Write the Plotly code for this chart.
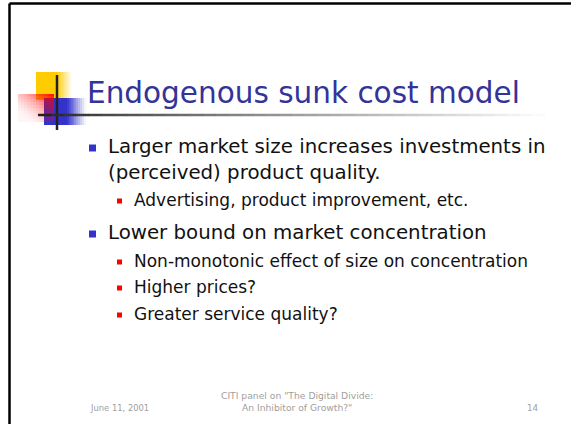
import plotly.graph_objects as go

# ---- content ----
title_text = "Endogenous sunk cost model"
line_texts = [
    "Larger market size increases investments in",
    "(perceived) product quality.",
    "Advertising, product improvement, etc.",
    "Lower bound on market concentration",
    "Non-monotonic effect of size on concentration",
    "Higher prices?",
    "Greater service quality?",
]
line_levels = [1, 0, 2, 1, 2, 2, 2]   # 1 = main bullet, 0 = continuation, 2 = sub bullet
line_y = [146, 172, 200, 232, 261, 287, 314]
footer_left = "June 11, 2001"
footer_center = ["CITI panel on \"The Digital Divide:", "An Inhibitor of Growth?\""]
footer_right = "14"

W, H = 571, 424
FONT = "DejaVu Sans"
BLUE = "#3333CC"
TITLE_BLUE = "#333399"
fig = go.Figure()
shapes = []

def rect(x0, y0, x1, y1, color, opacity=1.0):
    shapes.append(dict(type="rect", x0=x0, y0=y0, x1=x1, y1=y1, xref="x", yref="y",
                       fillcolor=color, opacity=opacity, line=dict(width=0), layer="below"))

def mix(c1, c2, t):
    return "rgb(%d,%d,%d)" % tuple(round(a + (b - a) * t) for a, b in zip(c1, c2))

# slide border (top and left)
shapes.append(dict(type="line", x0=9.5, y0=3.5, x1=W + 5, y1=3.5, line=dict(color="black", width=2.5)))
shapes.append(dict(type="line", x0=9.5, y0=3.5, x1=9.5, y1=H + 5, line=dict(color="black", width=2.5)))

# logo: yellow square with fade
rect(36, 72, 57, 100, "#FFCC00")
n = 10
for i in range(n):
    x0 = 57 + i * 15 / n
    rect(x0, 72, x0 + 15 / n + 0.3, 100, mix((255, 204, 0), (255, 255, 255), (i + 0.5) / n))
# blue square with fade
rect(44, 98, 67, 125, BLUE)
for i in range(n):
    x0 = 67 + i * 19 / n
    rect(x0, 98, x0 + 19 / n + 0.3, 125, mix((51, 51, 204), (255, 255, 255), (i + 0.5) / n))
# red square with diagonal transparency gradient
cs = 3
for ix in range(12):
    for iy in range(10):
        x0 = 18 + ix * cs
        y0 = 94 + iy * 2.8
        t = ((ix + 0.5) / 12 + 1 - (iy + 0.5) / 10) / 2
        rect(x0, y0, x0 + cs, y0 + 2.8, "#FF0000", opacity=max(0.04, min(0.9, t ** 2)))

# cross lines
shapes.append(dict(type="line", x0=57, y0=75, x1=57, y1=130, line=dict(color="#222222", width=2.5)))
m = 40
for i in range(m):
    x0 = 38 + i * (545 - 38) / m
    x1 = x0 + (545 - 38) / m + 0.5
    shapes.append(dict(type="line", x0=x0, y0=115, x1=x1, y1=115,
                       line=dict(color=mix((34, 34, 34), (255, 255, 255), (i / m) ** 0.85), width=2.5)))

annotations = []
annotations.append(dict(x=85, y=93, text=title_text, xanchor="left", yanchor="middle", showarrow=False,
                        font=dict(family=FONT, size=29.5, color=TITLE_BLUE)))

bx, by, rx, ry = [], [], [], []
for t, lv, y in zip(line_texts, line_levels, line_y):
    if lv in (0, 1):
        annotations.append(dict(x=106, y=y, text=t, xanchor="left", yanchor="middle", showarrow=False,
                                font=dict(family=FONT, size=19.8, color="#111111")))
        if lv == 1:
            bx.append(92.5); by.append(y + 2)
    else:
        annotations.append(dict(x=132, y=y, text=t, xanchor="left", yanchor="middle", showarrow=False,
                                font=dict(family=FONT, size=17, color="#111111")))
        rx.append(119.5); ry.append(y + 1)

fig.add_trace(go.Scatter(x=bx, y=by, mode="markers", hoverinfo="skip",
                         marker=dict(symbol="square", size=7, color=BLUE, line=dict(width=0))))
fig.add_trace(go.Scatter(x=rx, y=ry, mode="markers", hoverinfo="skip",
                         marker=dict(symbol="square", size=5, color="#FF0000", line=dict(width=0))))

GRAY = "#A0A0A0"
annotations.append(dict(x=88, y=408, text=footer_left, xanchor="left", yanchor="middle", showarrow=False,
                        font=dict(family=FONT, size=8.4, color=GRAY)))
annotations.append(dict(x=297, y=401, text="<br>".join(footer_center), xanchor="center", yanchor="middle",
                        showarrow=False, align="center", font=dict(family=FONT, size=9.2, color=GRAY)))
annotations.append(dict(x=533, y=408, text=footer_right, xanchor="center", yanchor="middle", showarrow=False,
                        font=dict(family=FONT, size=8.7, color=GRAY)))

fig.update_layout(
    width=W, height=H, margin=dict(l=0, r=0, t=0, b=0),
    paper_bgcolor="white", plot_bgcolor="white", showlegend=False,
    xaxis=dict(range=[0, W], visible=False, fixedrange=True),
    yaxis=dict(range=[H, 0], visible=False, fixedrange=True),
    shapes=shapes, annotations=annotations,
)
fig.write_html("out.html", config={"displayModeBar": False},
               post_script="document.body.style.margin='0';document.body.style.overflow='hidden';")
